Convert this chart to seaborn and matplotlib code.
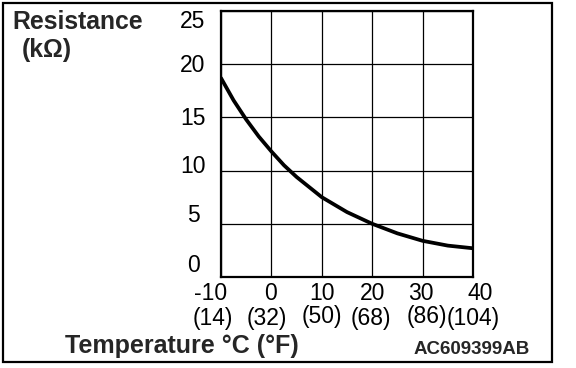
import matplotlib
matplotlib.use("Agg")
import matplotlib.pyplot as plt
import numpy as np
import pandas as pd
import seaborn as sns
from matplotlib.transforms import ScaledTranslation, blended_transform_factory
from matplotlib.patches import Rectangle

# ---- data ----
temps_c = [-10, -7.5, -5, -2.5, 0, 2.5, 5, 10, 15, 20, 25, 30, 35, 40]
resistance_kohm = [18.7, 16.6, 14.8, 13.2, 11.8, 10.5, 9.4, 7.5, 6.1, 5.0, 4.1, 3.4, 2.95, 2.7]
x_ticks_c = [-10, 0, 10, 20, 30, 40]
x_tick_labels_c = ["-10", "0", "10", "20", "30", "40"]
x_tick_labels_f = ["(14)", "(32)", "(50)", "(68)", "(86)", "(104)"]
y_ticks = [0, 5, 10, 15, 20, 25]
y_tick_labels = ["0", "5", "10", "15", "20", "25"]

# ---- style (pixel nudges of the hand-lettered labels) ----
y_label_dy_px = [-5, -1.3, 2, 7.3, 8.3, 17]
x_label_dx_px = [-10, -0.6, 0, 0, -1.3, 7.5]
f_label_dx_px = [-8, -4.8, 0, -1, 4, 0]
f_label_dy_px = [0, 0, -2, 0, -2, 0]

sns.set_style("white")
plt.rcParams["font.family"] = ["Liberation Sans", "DejaVu Sans"]

W, H = 576, 368
fig = plt.figure(figsize=(W / 100, H / 100), dpi=100)
ax = fig.add_axes([221 / W, (H - 277) / H, 252 / W, 266 / H])

df = pd.DataFrame({"T": temps_c, "R": resistance_kohm})
sns.lineplot(data=df, x="T", y="R", ax=ax, color="black", linewidth=2.7)

ax.set_xlim(-10, 40)
ax.set_ylim(0, 25)
ax.set_xticks(x_ticks_c)
ax.set_yticks(y_ticks)
ax.set_xticklabels([])
ax.set_yticklabels([])
ax.tick_params(length=0)
ax.grid(True, color="black", linewidth=0.9)
ax.set_xlabel("")
ax.set_ylabel("")
for s in ax.spines.values():
    s.set_color("black")
    s.set_linewidth(1.6)

def px(dx, dy):
    return ScaledTranslation(dx / 100, -dy / 100, fig.dpi_scale_trans)

tick_fs = 16.5
# y tick labels
ty = blended_transform_factory(ax.transAxes, ax.transData)
for v, lab, dy in zip(y_ticks, y_tick_labels, y_label_dy_px):
    ax.text(0, v, lab, transform=ty + px(-28, dy), ha="center", va="baseline",
            fontsize=tick_fs, color="black")

# x tick labels (two rows: °C and °F)
tx = blended_transform_factory(ax.transData, ax.transAxes)
for v, lab, dx in zip(x_ticks_c, x_tick_labels_c, x_label_dx_px):
    ax.text(v, 0, lab, transform=tx + px(dx, 23.5), ha="center", va="baseline",
            fontsize=tick_fs, color="black")
for v, lab, dx, dy in zip(x_ticks_c, x_tick_labels_f, f_label_dx_px, f_label_dy_px):
    ax.text(v, 0, lab, transform=tx + px(dx, 48 + dy), ha="center", va="baseline",
            fontsize=tick_fs, color="black")

# axis titles
fig.text(12 / W, (H - 29) / H, "Resistance", fontsize=17.8, fontweight="bold",
         ha="left", va="baseline")
fig.text(22 / W, (H - 57) / H, "(k\u03a9)", fontsize=17.8, fontweight="bold",
         ha="left", va="baseline")
fig.text(65 / W, (H - 353) / H, "Temperature \u00b0C (\u00b0F)", fontsize=18,
         fontweight="bold", ha="left", va="baseline")
fig.text(530 / W, (H - 354) / H, "AC609399AB", fontsize=13.5, fontweight="bold",
         ha="right", va="baseline")

# outer frame
fig.patches.append(Rectangle((3 / W, (H - 362) / H), 549 / W, 359 / H,
                             transform=fig.transFigure, fill=False,
                             edgecolor="black", linewidth=1.6))

fig.savefig("out.png", dpi=100)
